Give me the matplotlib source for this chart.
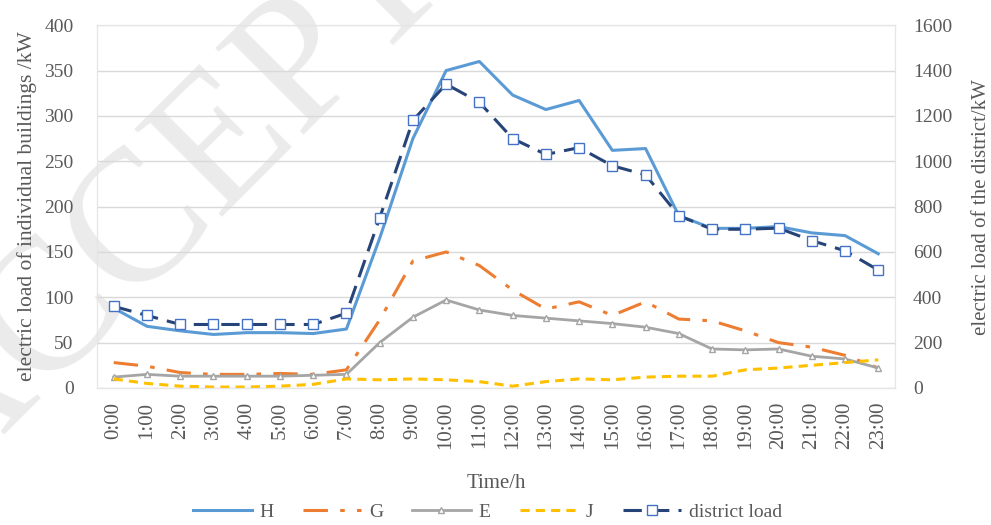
import matplotlib
matplotlib.use("Agg")
import matplotlib.pyplot as plt
import numpy as np

hours = [f"{h}:00" for h in range(24)]
H = [88, 68, 63, 59, 61, 61, 60, 65, 165, 275, 350, 360, 323, 307, 317, 262, 264, 190, 176, 176, 178, 171, 168, 148]
G = [28, 24, 17, 15, 15, 16, 15, 20, 75, 140, 150, 135, 108, 87, 95, 80, 95, 76, 74, 63, 50, 45, 36, 22]
E = [12, 15, 13, 13, 13, 13, 14, 15, 50, 78, 97, 86, 80, 77, 74, 71, 67, 60, 43, 42, 43, 35, 32, 22]
J = [10, 5, 2, 1, 1, 2, 4, 10, 9, 10, 9, 7, 2, 7, 10, 9, 12, 13, 13, 20, 22, 25, 28, 31]
district = [360, 320, 280, 280, 280, 280, 280, 330, 750, 1180, 1340, 1260, 1100, 1030, 1060, 980, 940, 760, 700, 700, 705, 650, 605, 520]

plt.rcParams['font.family'] = ['Liberation Serif', 'DejaVu Serif']
txt = '#595959'

fig = plt.figure(figsize=(9.91, 5.25), dpi=100)

# faint watermark of the source page
fig.text(-0.0545, 0.0629, 'ACCEPTED', fontsize=135, color='#EBEBEB',
         rotation=45, rotation_mode='anchor', ha='left', va='baseline', zorder=-5)

ax = fig.add_axes([0.098, 0.261, 0.805, 0.691])
ax2 = ax.twinx()
ax.patch.set_alpha(0)
ax2.patch.set_alpha(0)

x = np.arange(len(hours))
lH, = ax.plot(x, H, color='#5B9BD5', lw=2.2, label='H')
lG, = ax.plot(x, G, color='#ED7D31', lw=2.2, dashes=[8, 4, 1.5, 4], label='G')
lE, = ax.plot(x, E, color='#A5A5A5', lw=2.0, marker='^', ms=5, mfc='white', mec='#A5A5A5', label='E')
lJ, = ax.plot(x, J, color='#FFC000', lw=2.2, dashes=[3, 2], label='J')
lD, = ax2.plot(x, district, color='#264478', lw=2.2, dashes=[6, 3], marker='s', ms=7,
               mfc='white', mec='#4472C4', mew=1.0, label='district load')

ax.set_xlim(-0.5, 23.5)
ax.set_ylim(0, 400)
ax2.set_ylim(0, 1600)
ax.set_yticks(range(0, 401, 50))
ax2.set_yticks(range(0, 1601, 200))
ax.set_xticks(x)
ax.set_xticklabels(hours, rotation=90)

ax.grid(axis='y', color='#D9D9D9', lw=1)
ax.set_axisbelow(True)
for a in (ax, ax2):
    for s in a.spines.values():
        s.set_color('#E6E6E6')
        s.set_linewidth(0.8)
    a.tick_params(length=0, colors=txt, labelsize=14)
ax.spines['bottom'].set_color('#D9D9D9')
ax.tick_params(axis='y', pad=17)
ax2.tick_params(axis='y', pad=13)
ax.tick_params(axis='x', pad=10, labelsize=15)

ax.set_ylabel('electric load of individual buildings /kW', color=txt, fontsize=15.5)
ax2.set_ylabel('electric load of the district/kW', color=txt, fontsize=15)
ax.set_xlabel('Time/h', color=txt, fontsize=15)
ax.yaxis.set_label_coords(-0.0877, 0.5)
ax.yaxis.label.set_verticalalignment('center')
ax2.yaxis.set_label_coords(1.108, 0.5)
ax2.yaxis.label.set_verticalalignment('center')
ax.xaxis.set_label_coords(0.5, -0.262)
ax.xaxis.label.set_verticalalignment('center')

leg = fig.legend(handles=[lH, lG, lE, lJ, lD], loc='lower center', bbox_to_anchor=(0.492, -0.025),
                 ncol=5, frameon=False, fontsize=14, handlelength=3, handletextpad=0.4,
                 columnspacing=1.5)
for t in leg.get_texts():
    t.set_color(txt)

fig.savefig('out.png', dpi=100)
